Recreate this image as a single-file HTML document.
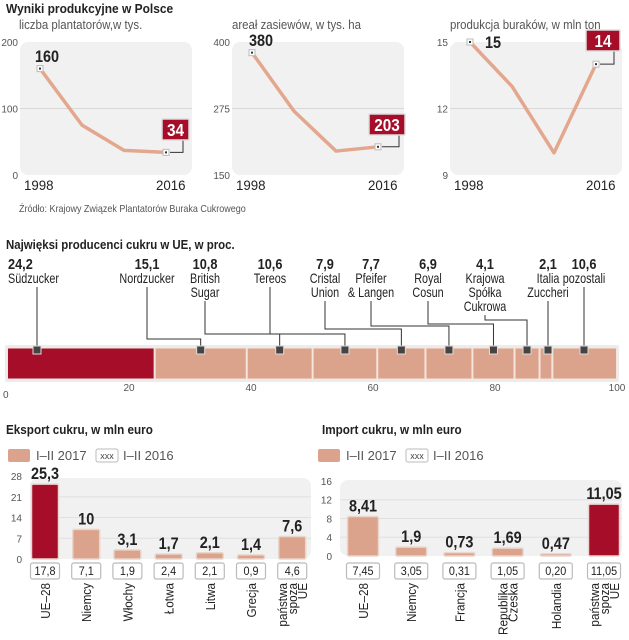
<!DOCTYPE html>
<html><head><meta charset="utf-8">
<style>
html,body{margin:0;padding:0;background:#fff;}
svg{display:block;font-family:"Liberation Sans",sans-serif;}
.t{fill:#222;}
.ax{fill:#555;font-size:10px;font-family:"Liberation Sans",sans-serif;}
</style></head>
<body>
<svg id="s" width="629" height="640" viewBox="0 0 629 640" xmlns="http://www.w3.org/2000/svg">
<text transform="translate(6,13) scale(0.92,1)" font-size="13" font-weight="bold" class="t">Wyniki produkcyjne w Polsce</text>
<text transform="translate(19,29) scale(0.88,1)" font-size="13" fill="#555">liczba plantatorów,w tys.</text>
<text transform="translate(232,29) scale(0.88,1)" font-size="13" fill="#555">areał zasiewów, w tys. ha</text>
<text transform="translate(450,29) scale(0.88,1)" font-size="13" fill="#555">produkcja buraków, w mln ton</text>
<text transform="translate(19,212) scale(0.9,1)" font-size="10" fill="#555">Źródło: Krajowy Związek Plantatorów Buraka Cukrowego</text>
<text transform="translate(6,249) scale(0.88,1)" font-size="13" font-weight="bold" class="t">Najwięksi producenci cukru w UE, w proc.</text>
<text transform="translate(6,434) scale(0.9,1)" font-size="13" font-weight="bold" class="t">Eksport cukru, w mln euro</text>
<text transform="translate(322,434) scale(0.9,1)" font-size="13" font-weight="bold" class="t">Import cukru, w mln euro</text>
<g id="lines"></g><g id="share"></g><g id="bars"></g>
</svg>
<script>
// ---- line chart data ----
const lineYears = ["1998","2016"];
const plantersValues = [160, 75, 37, 34];
const areaValues = [380, 270, 195, 203];
const beetValues = [15, 13, 10, 14];
const plantersTicks = [0, 100, 200];
const areaTicks = [150, 275, 400];
const beetTicks = [9, 12, 15];
// ---- share data ----
const shareNames = [["Südzucker"],["Nordzucker"],["British","Sugar"],["Tereos"],["Cristal","Union"],["Pfeifer","& Langen"],["Royal","Cosun"],["Krajowa","Spółka","Cukrowa"],["Italia","Zuccheri"],["pozostali"]];
const shareValues = [24.2, 15.1, 10.8, 10.6, 7.9, 7.7, 6.9, 4.1, 2.1, 10.6];
const shareTicks = [0, 20, 40, 60, 80, 100];
// ---- export / import data ----
const exportCats = [["UE–28"],["Niemcy"],["Włochy"],["Łotwa"],["Litwa"],["Grecja"],["państwa","spoza","UE"]];
const export2017 = [25.3, 10, 3.1, 1.7, 2.1, 1.4, 7.6];
const export2016 = [17.8, 7.1, 1.9, 2.4, 2.1, 0.9, 4.6];
const exportTicks = [0, 7, 14, 21, 28];
const importCats = [["UE–28"],["Niemcy"],["Francja"],["Republika","Czeska"],["Holandia"],["państwa","spoza","UE"]];
const import2017 = [8.41, 1.9, 0.73, 1.69, 0.47, 11.05];
const import2016 = [7.45, 3.05, 0.31, 1.05, 0.20, 11.05];
const importTicks = [0, 4, 8, 12, 16];

const NS = "http://www.w3.org/2000/svg";
const RED = "#a50d28", SAL = "#dca38c";
function el(tag, parent, attrs){const e=document.createElementNS(NS,tag);for(const k in attrs)e.setAttribute(k,attrs[k]);parent.appendChild(e);return e;}
function txt(parent, x, y, s, attrs){const e=el("text",parent,Object.assign({x:x,y:y},attrs||{}));e.textContent=s;return e;}
function ntxt(parent, x, y, s, sc, attrs){const e=el("text",parent,Object.assign({x:0,y:0,transform:"translate("+x+","+y+") scale("+sc+",1)"},attrs||{}));e.textContent=s;return e;}
const fmt = v => String(v).replace(".", ",");

// ---------- line charts ----------
const LG = document.getElementById("lines");
function lineChart(name, px, values, ticks, firstLabelPos, lastBox){
  const x0=px, w=172, top=42, bot=175;
  const mn=ticks[0], mx=ticks[ticks.length-1];
  const y = v => bot - (v-mn)/(mx-mn)*(bot-top);
  const xs = i => x0+20 + i*(w-46)/(values.length-1);
  const p = el("rect",LG,{x:x0,y:top,width:w,height:bot-top,rx:8,fill:"#f1f1f2"});
  
  
  ticks.forEach((t,i)=>{
    if(i>0&&i<ticks.length-1){const g=el("line",LG,{x1:x0,x2:x0+w,y1:y(t),y2:y(t),stroke:"#d8d8d8"});
      
      }
    const tl=txt(LG,x0-2,y(t)+4,String(t),{class:"ax","text-anchor":"end"});
    
    
  });
  const pts = values.map((v,i)=>xs(i)+","+y(v)).join(" ");
  const l=el("polyline",LG,{points:pts,fill:"none",stroke:"#e3a78d","stroke-width":3.5,"stroke-linejoin":"round"});
  
  
  [0,values.length-1].forEach(i=>{
    const m=el("rect",LG,{x:xs(i)-3,y:y(values[i])-3,width:6,height:6,fill:"#fff",stroke:"#bbb"});
    
    
    el("rect",LG,{x:xs(i)-1,y:y(values[i])-1,width:2,height:2,fill:"#333"});
  });
  lineYears.forEach((yr,i)=>{
    const t=ntxt(LG, i==0?x0+4:x0+w-36, 190, yr, 0.95, {"font-size":14,class:"t"});
    
    
  });
  const f=ntxt(LG, firstLabelPos[0], firstLabelPos[1], String(values[0]), 0.85, {"font-size":17,"font-weight":"bold",class:"t"});
  
  
  const n=values.length-1, lx=xs(n), ly=y(values[n]);
  const bx=lastBox[0], by=lastBox[1], bw=lastBox[2];
  el("polyline",LG,{points:(lx+4)+","+ly+" "+(bx+bw-6)+","+ly+" "+(bx+bw-6)+","+(by+20),fill:"none",stroke:"#333","stroke-width":1});
  const b=el("rect",LG,{x:bx,y:by,width:bw,height:21,fill:RED,stroke:"#ddd","stroke-width":1.5,rx:1});
  
  
  const bt=ntxt(LG,bx+bw/2,by+17,String(values[n]),0.85,{"font-size":18,"font-weight":"bold",fill:"#fff","text-anchor":"middle"});
  
  
}
lineChart("planters", 20, plantersValues, plantersTicks, [35,62], [162,119,27]);
lineChart("area", 232, areaValues, areaTicks, [249,46], [369,114,36]);
lineChart("beet", 450, beetValues, beetTicks, [485,48], [586,30,34]);

// ---------- share bar ----------
const SG = document.getElementById("share");
const sx0=7, sx1=617, sy=348, sh=31;
const sxs = v => sx0 + v/100*(sx1-sx0);
const labelX = [37,147,205,270,325,371,428,485,548,584];
const elbowY = [0,339,334,334,329,326,324,320,0,312];
el("rect",SG,{x:sx0-2,y:sy-3,width:sx1-sx0+4,height:sh+6,fill:"#ececec",rx:2});
let cum=0;
shareValues.forEach((v,i)=>{
  const a=sxs(cum), b=sxs(cum+v); cum+=v;
  const r=el("rect",SG,{x:a+0.5,y:sy,width:b-a-1,height:sh,fill:i==0?RED:SAL,stroke:"#f4e4dc","stroke-width":1});
  
  
  const lx=labelX[i];
  const inside = lx>a&&lx<b;
  const mx=inside?lx:(a+b)/2;
  const lines=shareNames[i];
  const startY=270+lines.length*14+3;
  const pts = inside ? (lx+","+startY+" "+lx+","+(sy+2)) : (lx+","+startY+" "+lx+","+elbowY[i]+" "+mx+","+elbowY[i]+" "+mx+","+(sy+2));
  el("polyline",SG,{points:pts,fill:"none",stroke:"#333","stroke-width":1});
  const m=el("rect",SG,{x:mx-4,y:sy-2,width:8,height:8,fill:"#444",stroke:"#ddd"});
  
  
  const anchor = i==0?"start":"middle", tx = i==0?8:lx;
  const vt=ntxt(SG,tx,269,fmt(v),0.85,{"font-size":15,"font-weight":"bold",class:"t","text-anchor":anchor});
  
  
  lines.forEach((s,j)=>{
    const nt=ntxt(SG,tx,283+j*14,s,0.8,{"font-size":13.5,class:"t","text-anchor":anchor});
    
    
  });
});
shareTicks.forEach((t,i)=>{
  const tl=txt(SG,sxs(t)+(i==0?-4:0),i==0?398:391,String(t),{class:"ax","font-size":9,"text-anchor":i==0?"start":"middle",fill:"#777"});
  
  
});

// ---------- bar charts ----------
const BG = document.getElementById("bars");
function barChart(name, lx, panel, zeroY, pxPerUnit, x0, step, bw, cats, v17, v16, ticks, fmt16, hiIdx){
  const sw=el("rect",BG,{x:lx,y:449,width:22,height:13,rx:2,fill:SAL});
  
  
  const l1=txt(BG,lx+28,460,"I–II 2017",{"font-size":13,fill:"#555"});
  
  
  const bx=el("rect",BG,{x:lx+88,y:449,width:22,height:13,rx:2,fill:"#fff",stroke:"#bbb"});
  
  
  txt(BG,lx+99,459,"xxx",{"font-size":9,fill:"#444","text-anchor":"middle"});
  const l2=txt(BG,lx+115,460,"I–II 2016",{"font-size":13,fill:"#555"});
  
  
  const mx=ticks[ticks.length-1];
  const y = v => zeroY - v*pxPerUnit;
  const p=el("rect",BG,{x:panel[0],y:panel[1],width:panel[2],height:zeroY-panel[1],rx:8,fill:"#f1f1f2"});
  
  
  ticks.forEach(t=>{
    if(t>0&&t<mx){el("line",BG,{x1:panel[0],x2:panel[0]+panel[2],y1:y(t),y2:y(t),stroke:"#e0e0e0"});}
    const tl=txt(BG,panel[0]-8,y(t)+4,String(t),{class:"ax","text-anchor":"end"});
    
    
  });
  cats.forEach((c,i)=>{
    const cx=x0+i*step;
    const r=el("rect",BG,{x:cx-bw/2,y:y(v17[i]),width:bw,height:v17[i]*pxPerUnit,fill:i==hiIdx?RED:SAL,stroke:"#e9d6cc","stroke-width":1.5,rx:1.5});
    
    
    const vt=ntxt(BG,cx,y(v17[i])-5,fmt(v17[i]),0.85,{"font-size":17,"font-weight":"bold",class:"t","text-anchor":"middle"});
    
    
    const b=el("rect",BG,{x:cx-bw/2-1,y:563,width:bw+2,height:16,rx:2,fill:"#fff",stroke:"#bbb","stroke-width":1.2});
    
    
    const bt=ntxt(BG,cx,575,fmt16(v16[i]),0.9,{"font-size":12,fill:"#222","text-anchor":"middle"});
    
    
    const n=c.length;
    c.forEach((s,j)=>{
      const lxp=cx+5+(j-(n-1)/2)*10;
      const ct=txt(BG,0,0,s,{"font-size":13,class:"t","text-anchor":"end",transform:"translate("+lxp+",583) rotate(-90) scale(0.9,1)"});
      
      
    });
  });
}
barChart("export", 8, [30,478,281], 559, 2.96, 45, 41.2, 27, exportCats, export2017, export2016, exportTicks, v=>fmt(v), 0);
barChart("import", 318, [340,480,282], 556, 4.69, 363, 48.2, 31, importCats, import2017, import2016, importTicks, v=>v.toFixed(2).replace(".",","), 5);
</script>
</body></html>
